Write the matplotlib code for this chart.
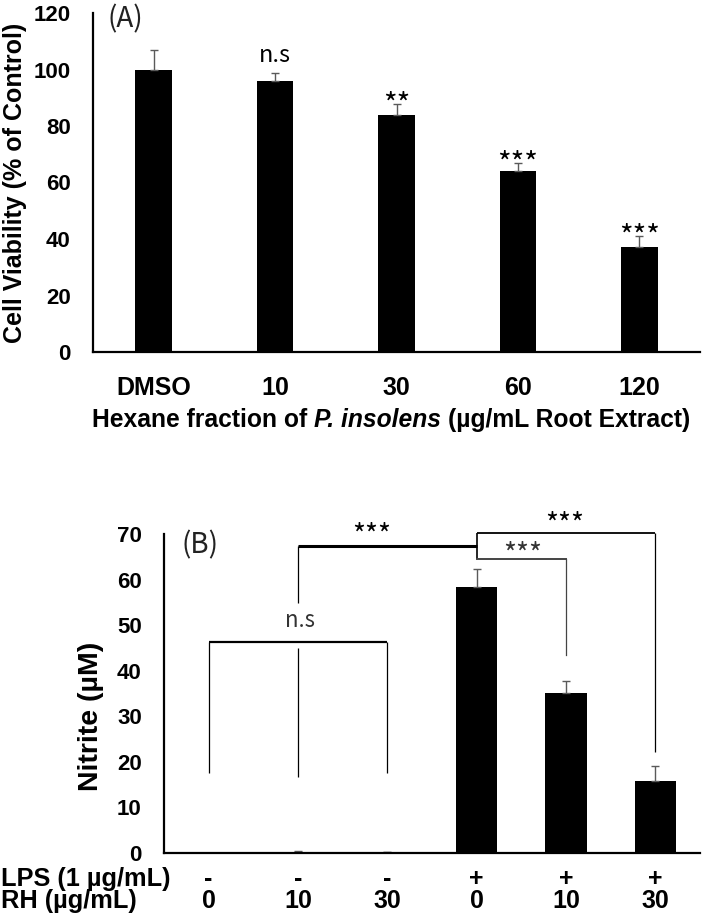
import matplotlib
matplotlib.use("Agg")
import matplotlib.pyplot as plt
import matplotlib.transforms as mtransforms
import numpy as np

plt.rcParams["font.family"] = ["Liberation Sans", "DejaVu Sans"]

# --- data ---
groups_a = ["DMSO", "10", "30", "60", "120"]
viability = [100, 96, 84, 64, 37]
viability_err = [6.8, 2.7, 3.9, 3.0, 4.2]
sig_a = ["", "n.s", "**", "***", "***"]

lps_row = ["-", "-", "-", "+", "+", "+"]
rh_row = ["0", "10", "30", "0", "10", "30"]
nitrite = [0.0, 0.3, 0.2, 58.3, 35.1, 15.7]
nitrite_err = [0.0, 0.1, 0.1, 4.0, 2.6, 3.3]

ANNOT_FONT = ["Noto Sans CJK KR", "DejaVu Sans"]
ERR_COLOR = "#5a5a5a"

fig = plt.figure(figsize=(7.03, 9.16), dpi=100)
renderer = fig.canvas.get_renderer()

# --- Panel A ---
axA = fig.add_axes([93 / 703, 564 / 916, 607 / 703, 339 / 916])
xa = np.arange(len(groups_a))
axA.bar(xa, viability, width=0.30, color="black")
axA.errorbar(xa, viability, yerr=[np.zeros(len(xa)), viability_err], fmt="none",
             ecolor=ERR_COLOR, elinewidth=1, capsize=3, capthick=1)
axA.set_xlim(-0.5, len(xa) - 0.5)
axA.set_ylim(0, 120)
axA.set_yticks(np.arange(0, 121, 20))
axA.set_xticks(xa)
axA.set_xticklabels(groups_a, fontsize=18, fontweight="bold")
for lab in axA.get_yticklabels():
    lab.set_fontsize(16)
    lab.set_fontweight("bold")
axA.tick_params(axis="both", length=0)
axA.tick_params(axis="y", pad=16)
axA.tick_params(axis="x", pad=17)
for s in ["top", "right"]:
    axA.spines[s].set_visible(False)
for s in ["left", "bottom"]:
    axA.spines[s].set_linewidth(1.6)

for i, s in enumerate(sig_a):
    if not s:
        continue
    top = viability[i] + viability_err[i]
    if s == "n.s":
        axA.text(i, top + 3.8, s, ha="center", va="baseline", fontsize=17,
                 family=ANNOT_FONT)
    else:
        axA.text(i, top - 3.5, s, ha="center", va="baseline", fontsize=21,
                 family=ANNOT_FONT)
axA.text(-0.236, 117.6, "(A)", ha="center", va="center", fontsize=20,
         family=ANNOT_FONT, color="#222222")

axA.set_ylabel("Cell Viability (% of Control)", fontsize=18, fontweight="bold")
axA.yaxis.set_label_coords(-66 / 607, 0.5)

# x label with italic species name, laid out piece by piece
xl_size = 17.7
pieces = [("Hexane fraction of", "normal"), ("P. insolens", "italic"),
          ("(µg/mL Root Extract)", "normal")]
probe = fig.text(0, 0, "a a", fontsize=xl_size, fontweight="bold")
w_sp = probe.get_window_extent(renderer).width
probe.set_text("aa")
w_sp -= probe.get_window_extent(renderer).width
probe.remove()
texts = [fig.text(0, 1 - 420 / 916, t, fontsize=xl_size, fontweight="bold",
                  style=st, va="center", ha="left") for t, st in pieces]
widths = [t.get_window_extent(renderer).width for t in texts]
total = sum(widths) + w_sp * (len(texts) - 1)
x0 = 391 - total / 2
for t, w in zip(texts, widths):
    t.set_x(x0 / 703)
    x0 += w + w_sp

# --- Panel B ---
axB = fig.add_axes([164 / 703, 63 / 916, 536 / 703, 319 / 916])
xb = np.arange(len(nitrite))
axB.bar(xb, nitrite, width=0.465, color="black")
axB.errorbar(xb, nitrite, yerr=[np.zeros(len(xb)), nitrite_err], fmt="none",
             ecolor=ERR_COLOR, elinewidth=1, capsize=3, capthick=1)
axB.set_xlim(-0.5, len(xb) - 0.5)
axB.set_ylim(0, 70)
axB.set_yticks(np.arange(0, 71, 10))
axB.set_xticks([])
for lab in axB.get_yticklabels():
    lab.set_fontsize(16)
    lab.set_fontweight("bold")
axB.tick_params(axis="both", length=0)
axB.tick_params(axis="y", pad=16)
for s in ["top", "right"]:
    axB.spines[s].set_visible(False)
for s in ["left", "bottom"]:
    axB.spines[s].set_linewidth(1.6)

axB.set_ylabel("Nitrite (µM)", fontsize=20.5, fontweight="bold")
axB.yaxis.set_label_coords((104 - 164) / 536, (853 - 716) / 319)

# treatment rows under the axis
for i in xb:
    axB.text(i, -0.08, lps_row[i], transform=axB.get_xaxis_transform(),
             ha="center", va="center", fontsize=18, fontweight="bold")
    axB.text(i, -0.15, rh_row[i], transform=axB.get_xaxis_transform(),
             ha="center", va="center", fontsize=18, fontweight="bold")
row_tr = mtransforms.blended_transform_factory(fig.transFigure, axB.transAxes)
axB.text(0.002, -0.08, "LPS (1 µg/mL)", transform=row_tr, ha="left",
         va="center", fontsize=18.3, fontweight="bold")
axB.text(0.002, -0.15, "RH (µg/mL)", transform=row_tr, ha="left",
         va="center", fontsize=18.3, fontweight="bold")

# significance brackets
kw = dict(color="black", clip_on=False, solid_capstyle="butt")
axB.plot([1, 3], [67.3, 67.3], lw=2.2, **kw)
axB.plot([1, 1], [67.3, 54.8], lw=0.9, **kw)
axB.plot([3, 3], [70.2, 64.5], lw=1.2, **kw)
axB.plot([3, 5], [70.2, 70.2], lw=1.3, **kw)
axB.plot([5, 5], [70.2, 22.1], lw=0.9, **kw)
axB.plot([3, 4], [64.5, 64.5], lw=1.4, color="#444444", clip_on=False)
axB.plot([4, 4], [64.5, 43.4], lw=0.9, color="#444444", clip_on=False)
axB.plot([0, 2], [46.3, 46.3], lw=1.6, **kw)
axB.plot([0, 0], [46.3, 17.5], lw=0.9, **kw)
axB.plot([2, 2], [46.3, 17.5], lw=0.9, **kw)
axB.plot([1, 1], [45.0, 16.7], lw=0.9, **kw)

axB.text(1.83, 67.6, "***", ha="center", va="baseline", fontsize=20,
         family=ANNOT_FONT, clip_on=False)
axB.text(3.98, 70.0, "***", ha="center", va="baseline", fontsize=20,
         family=ANNOT_FONT, clip_on=False)
axB.text(3.52, 63.4, "***", ha="center", va="baseline", fontsize=20,
         family=ANNOT_FONT, color="#333333", clip_on=False)
axB.text(1.02, 51.1, "n.s", ha="center", va="center", fontsize=16,
         family=ANNOT_FONT, color="#333333")
axB.text(-0.1, 67.5, "(B)", ha="center", va="center", fontsize=20,
         family=ANNOT_FONT, color="#222222")

fig.savefig("out.png", dpi=100)
